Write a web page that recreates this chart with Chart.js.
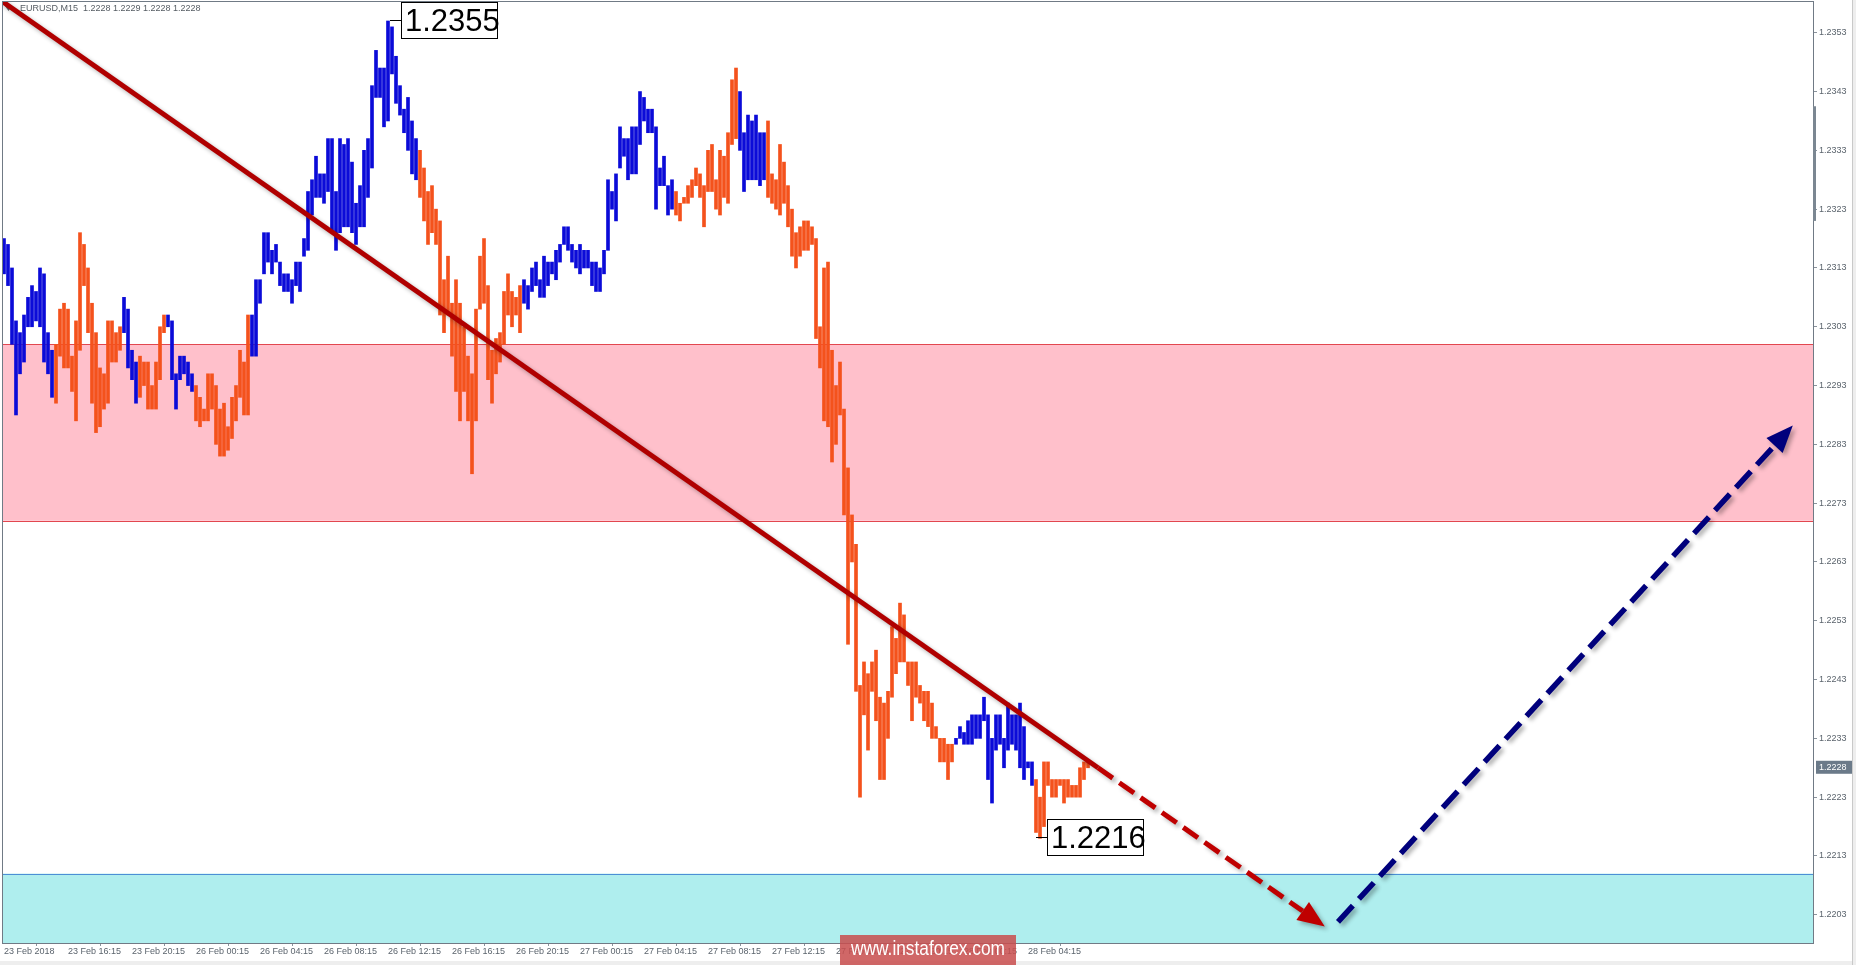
<!DOCTYPE html>
<html>
<head>
<meta charset="utf-8">
<title>EURUSD M15</title>
<script src="https://cdn.jsdelivr.net/npm/chart.js@4.4.1/dist/chart.umd.min.js"></script>
<style>
  html, body { margin: 0; padding: 0; background: #ffffff; }
  #wrap { width: 1856px; height: 965px; }
</style>
</head>
<body>
<div id="wrap"><canvas id="chart" width="1856" height="965"></canvas></div>
<script>
// ── Data ──
// bar highs / lows, oldest first (one bar per 15 minutes)
const highs = [
  1.2318, 1.2317, 1.2313, 1.2304, 1.2302, 1.2305, 1.2308, 1.2310, 1.2309, 1.2313,
  1.2312, 1.2302, 1.2299, 1.2300, 1.2306, 1.2307, 1.2306, 1.2298, 1.2304, 1.2319,
  1.2317, 1.2313, 1.2307, 1.2302, 1.2296, 1.2295, 1.2304, 1.2304, 1.2302, 1.2303,
  1.2308, 1.2306, 1.2299, 1.2297, 1.2298, 1.2297, 1.2297, 1.2293, 1.2297, 1.2303,
  1.2305, 1.2305, 1.2304, 1.2295, 1.2298, 1.2298, 1.2297, 1.2295, 1.2293, 1.2291,
  1.2289, 1.2295, 1.2295, 1.2293, 1.2289, 1.2290, 1.2286, 1.2291, 1.2293, 1.2299,
  1.2297, 1.2305, 1.2305, 1.2311, 1.2311, 1.2319, 1.2319, 1.2316, 1.2317, 1.2314,
  1.2312, 1.2312, 1.2311, 1.2314, 1.2314, 1.2318, 1.2326, 1.2328, 1.2332, 1.2329,
  1.2329, 1.2335, 1.2335, 1.2326, 1.2335, 1.2334, 1.2335, 1.2331, 1.2324, 1.2327,
  1.2333, 1.2335, 1.2344, 1.2350, 1.2347, 1.2347, 1.2355, 1.2354, 1.2349, 1.2344,
  1.2340, 1.2342, 1.2338, 1.2335, 1.2333, 1.2330, 1.2326, 1.2327, 1.2323, 1.2321,
  1.2311, 1.2315, 1.2307, 1.2311, 1.2307, 1.2303, 1.2298, 1.2295, 1.2306, 1.2315,
  1.2318, 1.2310, 1.2299, 1.2301, 1.2302, 1.2309, 1.2312, 1.2309, 1.2308, 1.2310,
  1.2311, 1.2310, 1.2313, 1.2314, 1.2311, 1.2315, 1.2314, 1.2314, 1.2316, 1.2317,
  1.2320, 1.2320, 1.2317, 1.2316, 1.2317, 1.2316, 1.2316, 1.2314, 1.2314, 1.2313,
  1.2316, 1.2328, 1.2326, 1.2329, 1.2337, 1.2335, 1.2335, 1.2337, 1.2337, 1.2343,
  1.2342, 1.2340, 1.2340, 1.2337, 1.2330, 1.2332, 1.2327, 1.2328, 1.2326, 1.2324,
  1.2325, 1.2327, 1.2328, 1.2330, 1.2329, 1.2327, 1.2333, 1.2334, 1.2328, 1.2333,
  1.2332, 1.2336, 1.2345, 1.2347, 1.2343, 1.2336, 1.2339, 1.2338, 1.2339, 1.2336,
  1.2336, 1.2338, 1.2329, 1.2328, 1.2334, 1.2331, 1.2327, 1.2323, 1.2319, 1.2320,
  1.2321, 1.2321, 1.2320, 1.2318, 1.2303, 1.2313, 1.2314, 1.2299, 1.2293, 1.2297,
  1.2289, 1.2279, 1.2271, 1.2266, 1.2242, 1.2246, 1.2244, 1.2246, 1.2248, 1.2240,
  1.2239, 1.2241, 1.2252, 1.2250, 1.2256, 1.2254, 1.2246, 1.2246, 1.2246, 1.2242,
  1.2241, 1.2241, 1.2239, 1.2235, 1.2233, 1.2233, 1.2232, 1.2232, 1.2233, 1.2235,
  1.2234, 1.2236, 1.2237, 1.2237, 1.2237, 1.2240, 1.2237, 1.2233, 1.2237, 1.2237,
  1.2233, 1.2239, 1.2237, 1.2237, 1.2239, 1.2235, 1.2229, 1.2229, 1.2226, 1.2223,
  1.2229, 1.2229, 1.2226, 1.2226, 1.2226, 1.2226, 1.2226, 1.2225, 1.2225, 1.2228,
  1.2229, 1.2229
];
const lows = [
  1.2312, 1.2310, 1.2300, 1.2288, 1.2295, 1.2297, 1.2303, 1.2303, 1.2304, 1.2303,
  1.2297, 1.2295, 1.2291, 1.2290, 1.2298, 1.2296, 1.2296, 1.2292, 1.2287, 1.2299,
  1.2310, 1.2302, 1.2290, 1.2285, 1.2286, 1.2289, 1.2290, 1.2297, 1.2297, 1.2299,
  1.2302, 1.2296, 1.2294, 1.2290, 1.2291, 1.2293, 1.2289, 1.2289, 1.2289, 1.2294,
  1.2302, 1.2303, 1.2294, 1.2289, 1.2294, 1.2295, 1.2293, 1.2292, 1.2287, 1.2286,
  1.2287, 1.2287, 1.2289, 1.2283, 1.2281, 1.2281, 1.2282, 1.2284, 1.2287, 1.2291,
  1.2288, 1.2288, 1.2298, 1.2298, 1.2307, 1.2312, 1.2314, 1.2312, 1.2314, 1.2310,
  1.2309, 1.2309, 1.2307, 1.2310, 1.2309, 1.2315, 1.2316, 1.2322, 1.2325, 1.2325,
  1.2324, 1.2326, 1.2319, 1.2316, 1.2319, 1.2320, 1.2320, 1.2319, 1.2317, 1.2320,
  1.2320, 1.2325, 1.2330, 1.2342, 1.2342, 1.2337, 1.2338, 1.2346, 1.2341, 1.2339,
  1.2336, 1.2333, 1.2329, 1.2328, 1.2325, 1.2321, 1.2317, 1.2319, 1.2317, 1.2305,
  1.2302, 1.2305, 1.2298, 1.2292, 1.2287, 1.2292, 1.2287, 1.2278, 1.2287, 1.2306,
  1.2307, 1.2294, 1.2290, 1.2295, 1.2297, 1.2300, 1.2305, 1.2303, 1.2305, 1.2302,
  1.2307, 1.2306, 1.2309, 1.2310, 1.2308, 1.2308, 1.2310, 1.2312, 1.2311, 1.2314,
  1.2317, 1.2316, 1.2314, 1.2313, 1.2312, 1.2313, 1.2313, 1.2310, 1.2309, 1.2309,
  1.2312, 1.2316, 1.2323, 1.2321, 1.2330, 1.2332, 1.2328, 1.2329, 1.2329, 1.2334,
  1.2338, 1.2336, 1.2336, 1.2323, 1.2327, 1.2327, 1.2322, 1.2323, 1.2322, 1.2321,
  1.2324, 1.2324, 1.2325, 1.2327, 1.2325, 1.2320, 1.2326, 1.2326, 1.2323, 1.2322,
  1.2325, 1.2324, 1.2334, 1.2335, 1.2333, 1.2326, 1.2328, 1.2328, 1.2328, 1.2327,
  1.2328, 1.2325, 1.2324, 1.2323, 1.2322, 1.2324, 1.2320, 1.2315, 1.2313, 1.2315,
  1.2316, 1.2316, 1.2317, 1.2301, 1.2296, 1.2287, 1.2286, 1.2280, 1.2283, 1.2288,
  1.2271, 1.2249, 1.2263, 1.2241, 1.2223, 1.2237, 1.2231, 1.2241, 1.2236, 1.2226,
  1.2226, 1.2233, 1.2240, 1.2244, 1.2246, 1.2246, 1.2242, 1.2236, 1.2240, 1.2239,
  1.2236, 1.2235, 1.2233, 1.2233, 1.2229, 1.2229, 1.2226, 1.2229, 1.2232, 1.2233,
  1.2232, 1.2232, 1.2232, 1.2233, 1.2233, 1.2236, 1.2226, 1.2222, 1.2231, 1.2232,
  1.2228, 1.2231, 1.2232, 1.2231, 1.2228, 1.2226, 1.2228, 1.2225, 1.2217, 1.2216,
  1.2218, 1.2225, 1.2223, 1.2223, 1.2225, 1.2222, 1.2223, 1.2223, 1.2223, 1.2223,
  1.2226, 1.2228
];

// wave legs: first bar index of each leg and its direction
const waveLegs = [
  [0, "up"], [13, "down"], [30, "up"], [34, "down"], [41, "up"], [48, "down"],
  [62, "up"], [104, "down"], [130, "up"], [168, "down"], [184, "up"],
  [191, "down"], [238, "up"], [258, "down"],
];

// time axis: one label every 16 bars (4 hours)
const tickEvery = 16;
const timeTicks = [
  "23 Feb 2018", "23 Feb 16:15", "23 Feb 20:15", "26 Feb 00:15", "26 Feb 04:15",
  "26 Feb 08:15", "26 Feb 12:15", "26 Feb 16:15", "26 Feb 20:15", "27 Feb 00:15",
  "27 Feb 04:15", "27 Feb 08:15", "27 Feb 12:15", "27 Feb 16:15", "27 Feb 20:15",
  "28 Feb 00:15", "28 Feb 04:15",
];
const futureBars = 181; // empty space right of the last bar (chart shift)

// price axis
const yTicks = [
  1.2203, 1.2213, 1.2223, 1.2233, 1.2243, 1.2253, 1.2263, 1.2273,
  1.2283, 1.2293, 1.2303, 1.2313, 1.2323, 1.2333, 1.2343, 1.2353,
];
const yMin = 1.21982;
const yMax = 1.23584;
const lastQuote = [1.2228, 1.2229, 1.2228, 1.2228]; // O H L C of the open bar
const scrollThumb = [1.2321, 1.23405]; // price range marked on the axis edge

// zones
const resistanceZone = [1.2270, 1.2300];
const supportZone = [1.2190, 1.2210];

// trend line and forecast arrows, as [bar index, price]
const trendLine = [[-1, 1.23586], [273.5, 1.2228]];
const downForecast = [[273.5, 1.2228], [330.2, 1.2201]];
const upForecast = [[333.5, 1.22018], [447.2, 1.22862]];

// extreme price labels
const extremes = [
  { i: 96.5, p: 1.2355, text: "1.2355" },
  { i: 258, p: 1.2216, text: "1.2216" },
];

const BLUE = "#0b0bd8";
const ORANGE = "#f4521c";
const AXIS_FONT = "Liberation Sans, Arial, sans-serif";

const labels = Array.from({ length: highs.length + futureBars }, (_, i) =>
  i % tickEvery === 0 && i / tickEvery < timeTicks.length ? timeTicks[i / tickEvery] : ""
);

const barColors = highs.map((_, i) => {
  let dir = "up";
  waveLegs.forEach(([start, d]) => { if (i >= start) dir = d; });
  return dir === "up" ? BLUE : ORANGE;
});

function hline(ctx, x0, x1, yy) {
  const py = Math.round(yy) + 0.5;
  ctx.beginPath();
  ctx.moveTo(x0, py);
  ctx.lineTo(x1, py);
  ctx.stroke();
}

function arrow(ctx, p0, p1, color, dash, width, headLen, headHalf) {
  const ang = Math.atan2(p1[1] - p0[1], p1[0] - p0[0]);
  const bx = p1[0] - headLen * Math.cos(ang);
  const by = p1[1] - headLen * Math.sin(ang);
  ctx.strokeStyle = color;
  ctx.lineWidth = width;
  ctx.setLineDash(dash);
  ctx.beginPath();
  ctx.moveTo(p0[0], p0[1]);
  ctx.lineTo(bx, by);
  ctx.stroke();
  ctx.setLineDash([]);
  ctx.fillStyle = color;
  ctx.beginPath();
  ctx.moveTo(p1[0], p1[1]);
  ctx.lineTo(bx + headHalf * Math.sin(ang), by - headHalf * Math.cos(ang));
  ctx.lineTo(bx - headHalf * Math.sin(ang), by + headHalf * Math.cos(ang));
  ctx.closePath();
  ctx.fill();
}

// ── Zones, trend line, arrows and labels drawn on top of the bars ──
const chartNotes = {
  id: "chartNotes",
  beforeDraw(chart) {
    const { ctx, chartArea: a, scales: { y } } = chart;
    ctx.save();
    ctx.fillStyle = "#ffffff";
    ctx.fillRect(0, 0, chart.width, chart.height);

    const rTop = y.getPixelForValue(resistanceZone[1]);
    const rBot = y.getPixelForValue(resistanceZone[0]);
    ctx.fillStyle = "#ffc0cb";
    ctx.fillRect(a.left, rTop, a.right - a.left, rBot - rTop);
    ctx.strokeStyle = "#e2474f";
    ctx.lineWidth = 1;
    hline(ctx, a.left, a.right, rTop);
    hline(ctx, a.left, a.right, rBot);

    const sTop = y.getPixelForValue(supportZone[1]);
    ctx.fillStyle = "#afeeee";
    ctx.fillRect(a.left, sTop, a.right - a.left, a.bottom - sTop);
    ctx.strokeStyle = "#4d8fd6";
    hline(ctx, a.left, a.right, sTop);
    ctx.restore();
  },
  afterDatasetsDraw(chart) {
    const { ctx, chartArea: a, scales: { x, y } } = chart;
    const pt = (d) => [x.getPixelForValue(d[0]), y.getPixelForValue(d[1])];

    // symbol header
    ctx.save();
    ctx.fillStyle = "#6a6a6a";
    ctx.beginPath();
    ctx.moveTo(5, 6);
    ctx.lineTo(12, 6);
    ctx.lineTo(8.5, 11);
    ctx.closePath();
    ctx.fill();
    ctx.font = "9px " + AXIS_FONT;
    ctx.fillStyle = "#555c63";
    ctx.textBaseline = "middle";
    ctx.fillText("EURUSD,M15  " + lastQuote.map((v) => v.toFixed(4)).join(" "), 20, 9);
    ctx.restore();

    ctx.save();
    ctx.beginPath();
    ctx.rect(a.left, a.top, a.right - a.left, a.bottom - a.top);
    ctx.clip();
    ctx.shadowColor = "rgba(0, 0, 0, 0.3)";
    ctx.shadowBlur = 4;
    ctx.shadowOffsetX = 3;
    ctx.shadowOffsetY = 3;

    // ── main trend line ──
    const t0 = pt(trendLine[0]);
    const t1 = pt(trendLine[1]);
    ctx.strokeStyle = "#b00000";
    ctx.lineWidth = 5;
    ctx.beginPath();
    ctx.moveTo(t0[0], t0[1]);
    ctx.lineTo(t1[0], t1[1]);
    ctx.stroke();

    // ── forecast arrows ──
    arrow(ctx, pt(downForecast[0]), pt(downForecast[1]), "#bf0000", [18, 8], 5, 27, 11);
    arrow(ctx, pt(upForecast[0]), pt(upForecast[1]), "#00007c", [22, 9], 5.5, 27, 11);
    ctx.restore();

    // ── extreme price labels ──
    ctx.save();
    ctx.font = "31px " + AXIS_FONT;
    ctx.textBaseline = "middle";
    extremes.forEach((e) => {
      const px = x.getPixelForValue(e.i);
      const py = Math.round(y.getPixelForValue(e.p)) - 1;
      const bx = Math.round(px) + 11;
      ctx.strokeStyle = "#000000";
      ctx.lineWidth = 1;
      hline(ctx, px, bx, py);
      ctx.fillStyle = "#ffffff";
      ctx.fillRect(bx, py - 18, 97, 37);
      ctx.strokeRect(bx + 0.5, py - 17.5, 96, 36);
      ctx.fillStyle = "#000000";
      ctx.fillText(e.text, bx + 4, py + 2);
    });
    ctx.restore();
  },
  afterDraw(chart) {
    const { ctx, chartArea: a, scales: { y } } = chart;
    ctx.save();
    // frame round the price area
    ctx.strokeStyle = "#707a85";
    ctx.lineWidth = 1;
    ctx.strokeRect(a.left + 0.5, a.top + 0.5, a.right - a.left - 1, a.bottom - a.top);

    // scroll thumb on the price axis edge
    const sy0 = y.getPixelForValue(scrollThumb[1]);
    const sy1 = y.getPixelForValue(scrollThumb[0]);
    ctx.fillStyle = "#7b8792";
    ctx.fillRect(a.right - 1, sy0, 3, sy1 - sy0);

    // last price tag on the price axis
    const ly = y.getPixelForValue(lastQuote[3]);
    ctx.fillStyle = "#6b7a89";
    ctx.fillRect(a.right + 2, ly - 7, 36, 13);
    ctx.fillStyle = "#ffffff";
    ctx.font = "9px " + AXIS_FONT;
    ctx.textBaseline = "middle";
    ctx.fillText(lastQuote[3].toFixed(4), a.right + 5, ly);

    // window edges
    ctx.fillStyle = "#eeeeee";
    ctx.fillRect(chart.width - 4, 0, 4, chart.height);
    ctx.fillRect(0, chart.height - 4, chart.width, 4);
    ctx.fillStyle = "#c9c9c9";
    ctx.fillRect(chart.width - 4, 0, 1, chart.height);

    // watermark
    ctx.fillStyle = "rgba(200, 78, 78, 0.86)";
    ctx.fillRect(840, 935, 176, 30);
    ctx.font = "21px " + AXIS_FONT;
    ctx.fillStyle = "#ffffff";
    ctx.textBaseline = "middle";
    const wm = "www.instaforex.com";
    const w = ctx.measureText(wm).width;
    ctx.translate(928, 949);
    ctx.scale(154 / w, 1);
    ctx.textAlign = "center";
    ctx.fillText(wm, 0, 0);
    ctx.restore();
  },
};

// ── EURUSD M15 bar chart ──
new Chart(document.getElementById("chart"), {
  type: "bar",
  data: {
    labels: labels,
    datasets: [
      {
        label: "EURUSD",
        data: highs.map((h, i) => [lows[i], h]),
        backgroundColor: barColors,
        borderWidth: 0,
        borderSkipped: false,
        barThickness: 3,
      },
    ],
  },
  options: {
    responsive: false,
    animation: false,
    devicePixelRatio: 1,
    layout: { padding: { left: 2, top: 1, right: 0, bottom: 0 } },
    plugins: {
      legend: { display: false },
      tooltip: { enabled: false },
    },
    scales: {
      x: {
        type: "category",
        grid: { display: true, drawOnChartArea: false, drawTicks: true, tickLength: 3, color: "#8a939c" },
        border: { display: false },
        ticks: {
          autoSkip: false,
          maxRotation: 0,
          minRotation: 0,
          align: "start",
          padding: 0,
          color: "#5b646d",
          font: { size: 9, family: AXIS_FONT },
          callback: function (value) {
            const s = this.getLabelForValue(value);
            return s === "" ? null : s;
          },
        },
        afterFit: (scale) => {
          scale.height = 22;
          scale.paddingLeft = 0;
          scale.paddingRight = 0;
        },
      },
      y: {
        type: "linear",
        position: "right",
        min: yMin,
        max: yMax,
        grid: { display: true, drawOnChartArea: false, drawTicks: true, tickLength: 3, color: "#8a939c" },
        border: { display: false },
        afterBuildTicks: (scale) => { scale.ticks = yTicks.map((v) => ({ value: v })); },
        ticks: {
          padding: 2,
          color: "#5b646d",
          font: { size: 9, family: AXIS_FONT },
          callback: (v) => v.toFixed(4),
        },
        afterFit: (scale) => {
          scale.width = 42;
          scale.paddingTop = 0;
          scale.paddingBottom = 0;
        },
      },
    },
  },
  plugins: [chartNotes],
});
</script>
</body>
</html>
